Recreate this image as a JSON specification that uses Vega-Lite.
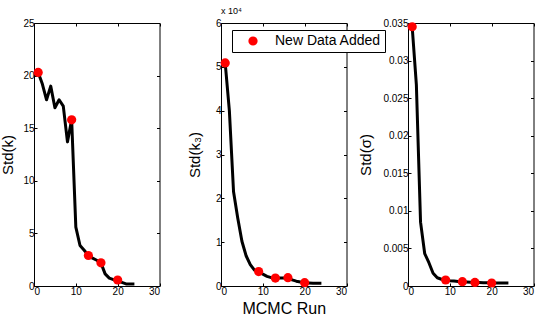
{
  "$schema": "https://vega.github.io/schema/vega-lite/v6.json",
  "background": "white",
  "padding": {"left": 0, "top": 6, "right": 0, "bottom": 0},
  "datasets": {
    "k": [
      {"run": 1, "std": 20.3, "added": true},
      {"run": 2, "std": 19.2, "added": false},
      {"run": 3, "std": 17.7, "added": false},
      {"run": 4, "std": 19.0, "added": false},
      {"run": 5, "std": 16.95, "added": false},
      {"run": 6, "std": 17.7, "added": false},
      {"run": 7, "std": 17.1, "added": false},
      {"run": 8, "std": 13.7, "added": false},
      {"run": 9, "std": 15.8, "added": true},
      {"run": 10, "std": 5.6, "added": false},
      {"run": 11, "std": 3.85, "added": false},
      {"run": 12, "std": 3.4, "added": false},
      {"run": 13, "std": 2.9, "added": true},
      {"run": 14, "std": 2.65, "added": false},
      {"run": 15, "std": 2.45, "added": false},
      {"run": 16, "std": 2.2, "added": true},
      {"run": 17, "std": 1.15, "added": false},
      {"run": 18, "std": 0.75, "added": false},
      {"run": 19, "std": 0.6, "added": false},
      {"run": 20, "std": 0.57, "added": true},
      {"run": 21, "std": 0.35, "added": false},
      {"run": 22, "std": 0.2, "added": false},
      {"run": 23, "std": 0.18, "added": false},
      {"run": 24, "std": 0.18, "added": false}
    ],
    "k3": [
      {"run": 1, "std": 50900, "added": true},
      {"run": 2, "std": 40000, "added": false},
      {"run": 3, "std": 21500, "added": false},
      {"run": 4, "std": 15500, "added": false},
      {"run": 5, "std": 10200, "added": false},
      {"run": 6, "std": 6900, "added": false},
      {"run": 7, "std": 4900, "added": false},
      {"run": 8, "std": 3600, "added": false},
      {"run": 9, "std": 3300, "added": true},
      {"run": 10, "std": 2700, "added": false},
      {"run": 11, "std": 2200, "added": false},
      {"run": 12, "std": 1900, "added": false},
      {"run": 13, "std": 1800, "added": true},
      {"run": 14, "std": 1800, "added": false},
      {"run": 15, "std": 1850, "added": false},
      {"run": 16, "std": 1900, "added": true},
      {"run": 17, "std": 1400, "added": false},
      {"run": 18, "std": 1100, "added": false},
      {"run": 19, "std": 900, "added": false},
      {"run": 20, "std": 750, "added": true},
      {"run": 21, "std": 700, "added": false},
      {"run": 22, "std": 650, "added": false},
      {"run": 23, "std": 600, "added": false},
      {"run": 24, "std": 600, "added": false}
    ],
    "sigma": [
      {"run": 1, "std": 0.0345, "added": true},
      {"run": 2, "std": 0.0268, "added": false},
      {"run": 3, "std": 0.0085, "added": false},
      {"run": 4, "std": 0.0043, "added": false},
      {"run": 5, "std": 0.0031, "added": false},
      {"run": 6, "std": 0.0017, "added": false},
      {"run": 7, "std": 0.0011, "added": false},
      {"run": 8, "std": 0.0009, "added": false},
      {"run": 9, "std": 0.0008, "added": true},
      {"run": 10, "std": 0.0007, "added": false},
      {"run": 11, "std": 0.00065, "added": false},
      {"run": 12, "std": 0.0006, "added": false},
      {"run": 13, "std": 0.00057, "added": true},
      {"run": 14, "std": 0.00053, "added": false},
      {"run": 15, "std": 0.0005, "added": false},
      {"run": 16, "std": 0.00048, "added": true},
      {"run": 17, "std": 0.00046, "added": false},
      {"run": 18, "std": 0.00044, "added": false},
      {"run": 19, "std": 0.00042, "added": false},
      {"run": 20, "std": 0.0004, "added": true},
      {"run": 21, "std": 0.0004, "added": false},
      {"run": 22, "std": 0.0004, "added": false},
      {"run": 23, "std": 0.0004, "added": false},
      {"run": 24, "std": 0.0004, "added": false}
    ]
  },
  "spacing": 61,
  "bounds": "flush",
  "resolve": {"scale": {"color": "independent"}, "legend": {"color": "independent"}},
  "config": {
    "font": "Liberation Sans",
    "view": {"stroke": "black", "strokeWidth": 1},
    "axis": {
      "grid": false,
      "domain": false,
      "tickColor": "black",
      "tickSize": -3,
      "labelFontSize": 10,
      "labelColor": "black",
      "labelPadding": 3,
      "titleFontSize": 15,
      "titleFontWeight": "normal",
      "titleColor": "black"
    }
  },
  "hconcat": [
    {
      "width": 125.5,
      "height": 263,
      "data": {"name": "k"},
      "layer": [
        {
          "mark": {"type": "line", "color": "black", "strokeWidth": 3, "strokeJoin": "round"},
          "encoding": {
            "x": {"field": "run", "type": "quantitative", "scale": {"domain": [0, 30], "nice": false}, "axis": {"values": [0, 10, 20, 30], "title": null}},
            "y": {"field": "std", "type": "quantitative", "scale": {"domain": [0, 25], "nice": false}, "axis": {"values": [0, 5, 10, 15, 20, 25], "title": "Std(k)", "titlePadding": 7}}
          }
        },
        {
          "transform": [{"filter": "datum.added"}],
          "mark": {"type": "point", "filled": true, "size": 85, "color": "red", "opacity": 1},
          "encoding": {
            "x": {"field": "run", "type": "quantitative", "axis": {"orient": "top", "values": [0, 10, 20, 30], "labels": false, "title": null}},
            "y": {"field": "std", "type": "quantitative", "axis": {"orient": "right", "values": [0, 5, 10, 15, 20, 25], "labels": false, "title": null}}
          }
        }
      ],
      "resolve": {"axis": {"x": "independent", "y": "independent"}}
    },
    {
      "width": 125.5,
      "height": 263,
      "data": {"name": "k3"},
      "title": {"text": "x 10⁴", "anchor": "start", "frame": "group", "fontSize": 9, "fontWeight": "normal", "offset": 2, "color": "black"},
      "layer": [
        {
          "mark": {"type": "line", "color": "black", "strokeWidth": 3, "strokeJoin": "round"},
          "encoding": {
            "x": {"field": "run", "type": "quantitative", "scale": {"domain": [0, 30], "nice": false}, "axis": {"values": [0, 10, 20, 30], "title": "MCMC Run", "titleFontSize": 16, "titlePadding": 4}},
            "y": {"field": "std", "type": "quantitative", "scale": {"domain": [0, 60000], "nice": false}, "axis": {"values": [0, 10000, 20000, 30000, 40000, 50000, 60000], "labelExpr": "datum.value / 10000", "title": "Std(k₃)", "titlePadding": 13}}
          }
        },
        {
          "transform": [{"filter": "datum.added"}],
          "mark": {"type": "point", "filled": true, "size": 85, "opacity": 1},
          "encoding": {
            "x": {"field": "run", "type": "quantitative", "axis": {"orient": "top", "values": [0, 10, 20, 30], "labels": false, "title": null}},
            "y": {"field": "std", "type": "quantitative", "axis": {"orient": "right", "values": [0, 10000, 20000, 30000, 40000, 50000, 60000], "labels": false, "title": null}},
            "color": {
              "datum": "New Data Added",
              "scale": {"range": ["red"]},
              "legend": {
                "title": null,
                "orient": "none",
                "legendX": 11,
                "legendY": 7,
                "fillColor": "white",
                "strokeColor": "black",
                "padding": 4,
                "symbolType": "circle",
                "symbolSize": 85,
                "symbolStrokeWidth": 0,
                "symbolOffset": 10,
                "labelFontSize": 14,
                "labelColor": "black",
                "labelOffset": 15
              }
            }
          }
        }
      ],
      "resolve": {"axis": {"x": "independent", "y": "independent"}}
    },
    {
      "width": 125.5,
      "height": 263,
      "data": {"name": "sigma"},
      "layer": [
        {
          "mark": {"type": "line", "color": "black", "strokeWidth": 3, "strokeJoin": "round"},
          "encoding": {
            "x": {"field": "run", "type": "quantitative", "scale": {"domain": [0, 30], "nice": false}, "axis": {"values": [0, 10, 20, 30], "title": null}},
            "y": {"field": "std", "type": "quantitative", "scale": {"domain": [0, 0.035], "nice": false}, "axis": {"values": [0, 0.005, 0.01, 0.015, 0.02, 0.025, 0.03, 0.035], "format": ".3~f", "title": "Std(σ)", "titlePadding": 9}}
          }
        },
        {
          "transform": [{"filter": "datum.added"}],
          "mark": {"type": "point", "filled": true, "size": 85, "color": "red", "opacity": 1},
          "encoding": {
            "x": {"field": "run", "type": "quantitative", "axis": {"orient": "top", "values": [0, 10, 20, 30], "labels": false, "title": null}},
            "y": {"field": "std", "type": "quantitative", "axis": {"orient": "right", "values": [0, 0.005, 0.01, 0.015, 0.02, 0.025, 0.03, 0.035], "labels": false, "title": null}}
          }
        }
      ],
      "resolve": {"axis": {"x": "independent", "y": "independent"}}
    }
  ]
}
